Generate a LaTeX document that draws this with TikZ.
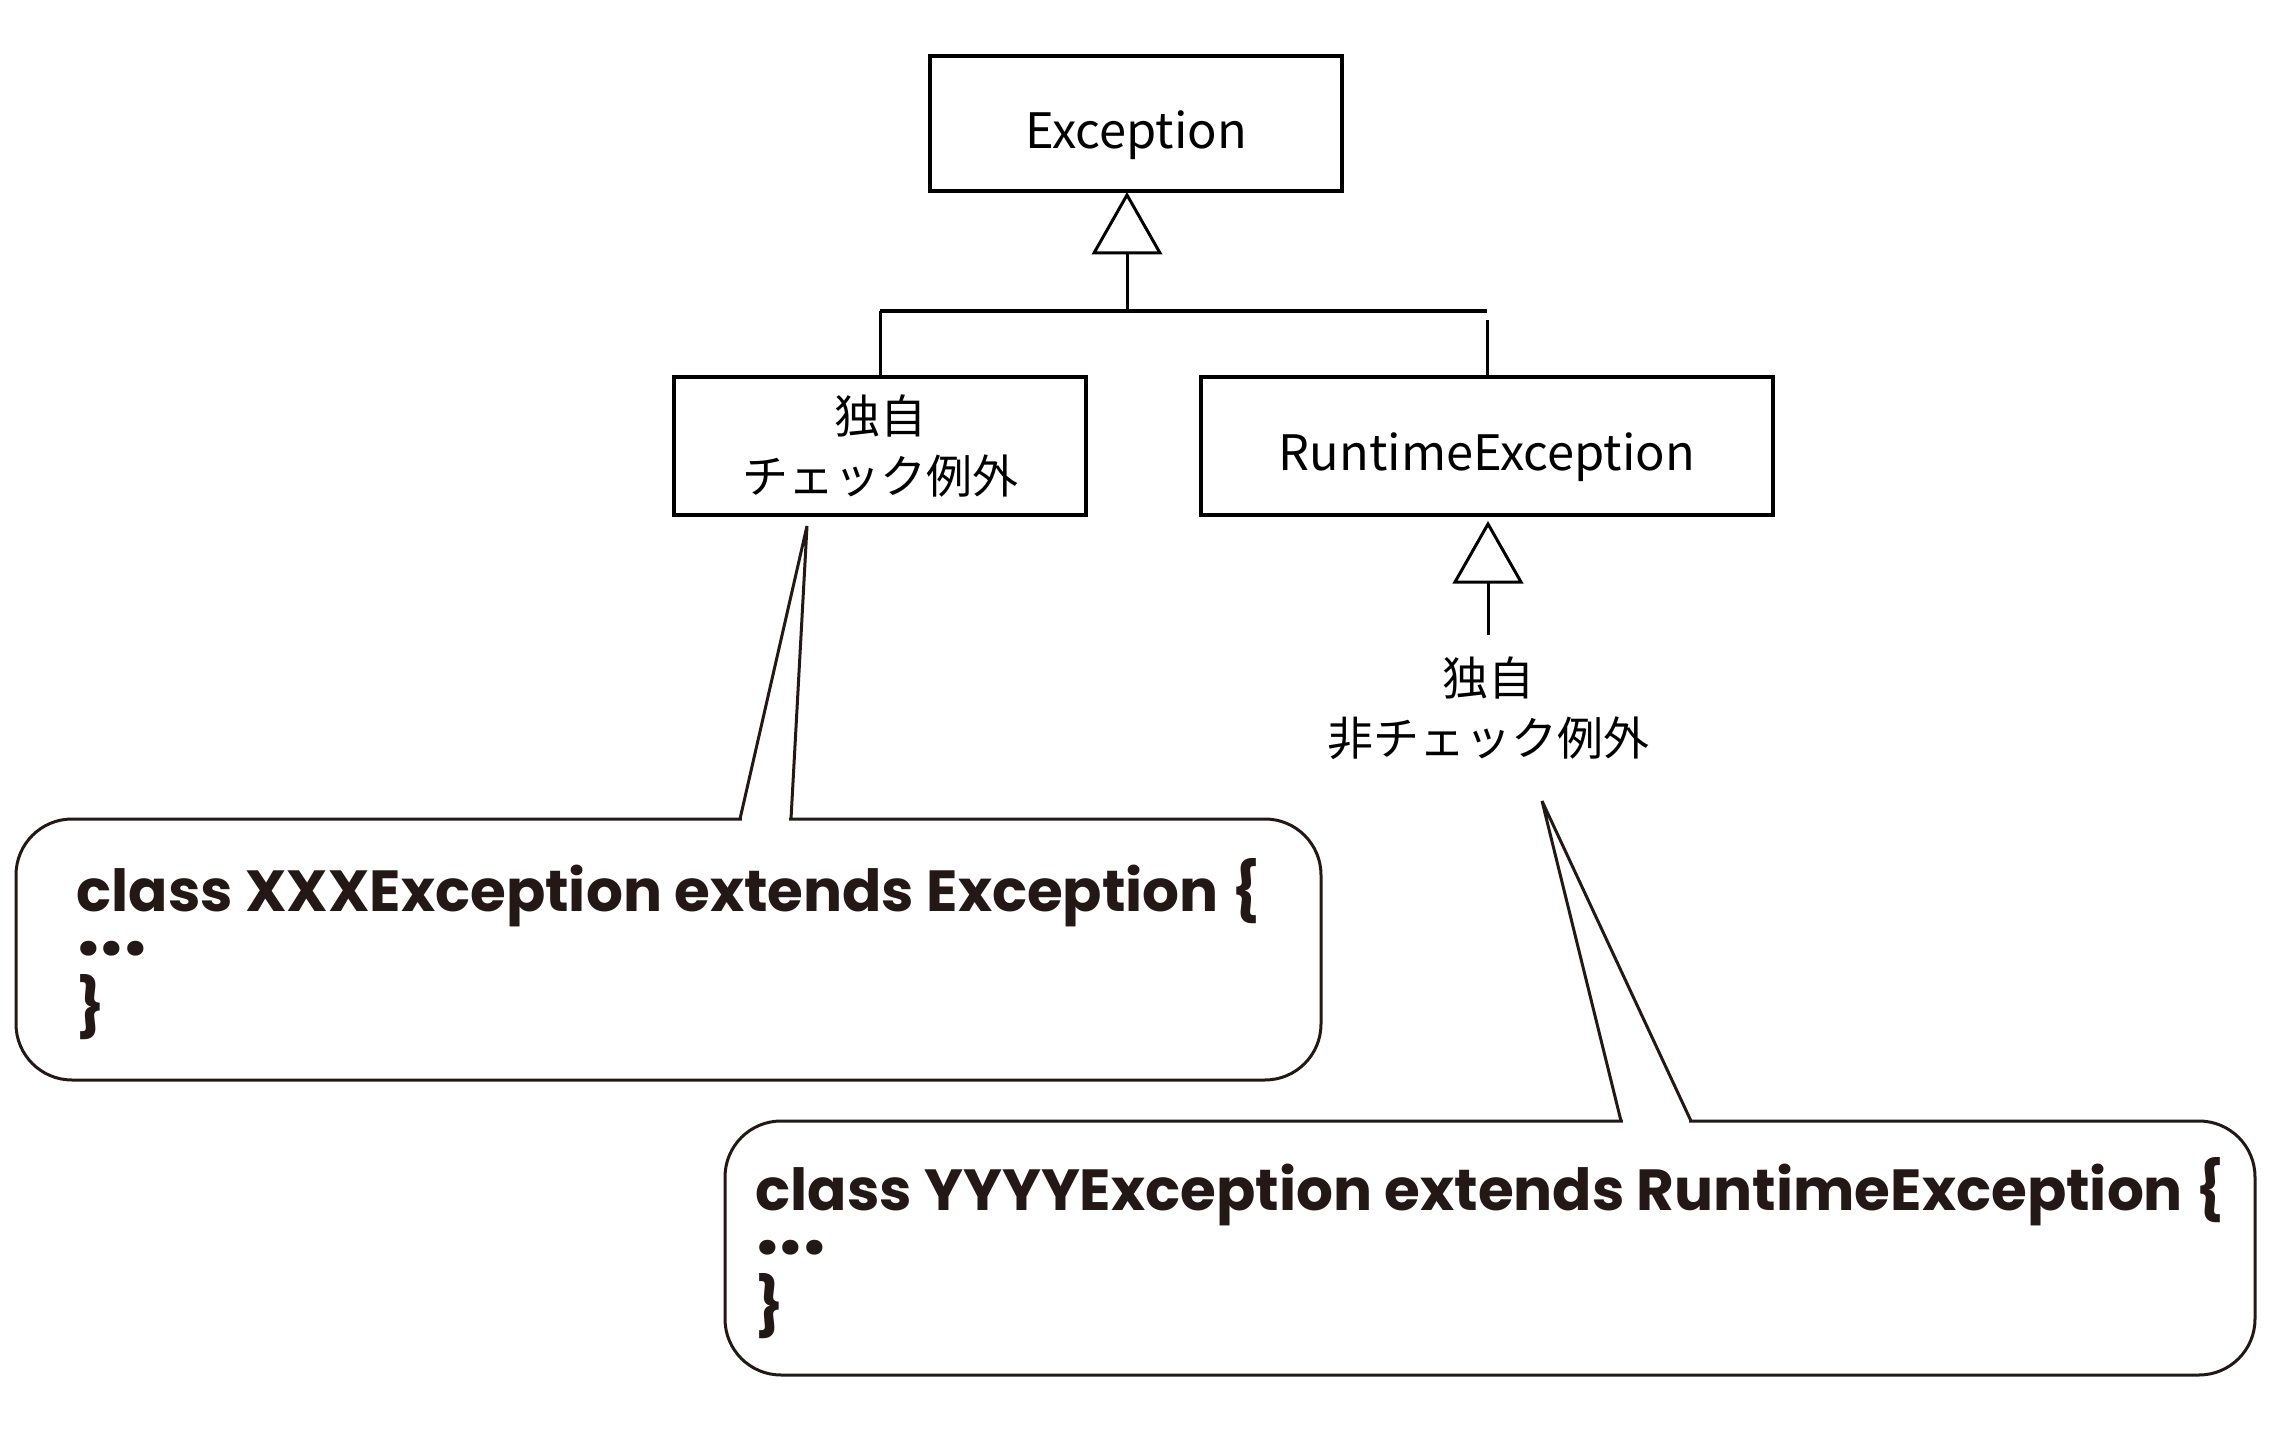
\documentclass[tikz,border=0pt]{standalone}
\usepackage{fontspec}
\usetikzlibrary{calc}
\newfontfamily\jp{Noto Sans CJK JP}
\newfontfamily\code{Poppins}
\definecolor{ink}{HTML}{231815}
\newcommand\onedot{\makebox[11.8pt]{.}}
\newcommand\dotsline{\smash{\raisebox{7pt}{\fontsize{40}{29}\selectfont\onedot\onedot\onedot}}}
\tikzset{
  cls/.style={draw=black, line width=2pt, minimum height=68pt, inner sep=0pt,
    align=center, font=\jp\fontsize{23}{30}\selectfont},
  one/.style={font=\jp\fontsize{24.4}{30}\selectfont, text height=30pt, text depth=5pt},
  lbl/.style={align=center, inner sep=10.5pt, font=\jp\fontsize{23}{30}\selectfont},
  gen/.style={draw=black, line width=1.5pt},
  bar/.style={draw=black, line width=2pt},
  tri/.style={draw=black, line width=1.5pt, fill=white, line join=miter},
  callout/.style={draw=ink, line width=1.5pt, rounded corners=28pt, inner sep=0pt,
    align=left, text=ink, font=\code\bfseries\fontsize{29}{29}\selectfont},
  ptr/.style={draw=ink, line width=1.5pt, line join=miter},
}
\begin{document}
\begin{tikzpicture}[x=0.5pt, y=-0.5pt]
\useasboundingbox (0,0) rectangle (2292,1433);

% class boxes
\node[cls, one, minimum width=206pt, minimum height=67.5pt] (exc) at (1136,123.5) {Exception};
\node[cls, minimum width=206pt, minimum height=69pt] (chk) at (880,446) {独自\\チェック例外};
\node[cls, one, minimum width=286pt, minimum height=69pt] (rt) at (1487,446) {RuntimeException};
\node[lbl] (uc) at (1488,708) {独自\\非チェック例外};

% generalization to Exception
\coordinate (apx) at ($(exc.south)+(-9,2)$);
\draw[tri] (apx) -- ++(33,58) -- ++(-66,0) -- cycle;
\coordinate (jn) at (1127,311);
\draw[gen] ($(apx)+(0,58)$) -- (jn);
\draw[bar] (chk.north |- jn) -- (rt.north |- jn);
\draw[gen] (chk.north |- jn) -- (chk.north);
\draw[gen] ($(rt.north |- jn)+(0,9)$) -- (rt.north);

% generalization to RuntimeException
\coordinate (apx2) at ($(rt.south)+(1,7)$);
\draw[tri] (apx2) -- ++(33,58) -- ++(-66,0) -- cycle;
\draw[gen] ($(apx2)+(0,58)$) -- (uc.north);

% callouts
\node[callout, minimum width=652.5pt, minimum height=130.5pt] (c1) at (668.5,949.5)
  {class XXXException extends Exception \{\\\dotsline\\\}};
\node[callout, minimum width=765pt, minimum height=127pt] (c2) at (1490,1248)
  {class YYYYException extends RuntimeException \{\\\dotsline\\\}};

\coordinate (t1) at (807,526);
\coordinate (b1a) at (740,819);
\coordinate (b1b) at (791,819);
\fill[white] (742,815) rectangle (789,823);
\draw[ptr] (b1a) -- (t1) -- (b1b);

\coordinate (t2) at (1542,801);
\coordinate (b2a) at (1621,1121);
\coordinate (b2b) at (1691,1121);
\fill[white] (1623,1117) rectangle (1689,1125);
\draw[ptr] (b2a) -- (t2) -- (b2b);
\end{tikzpicture}
\end{document}
